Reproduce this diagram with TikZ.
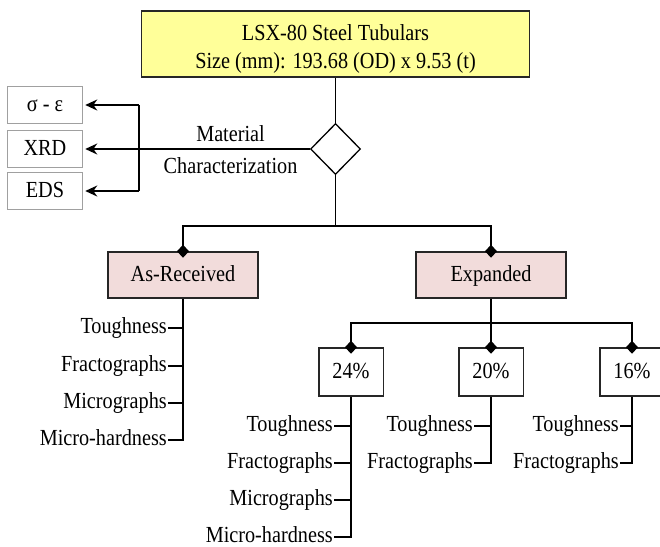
\documentclass[tikz,border=0pt]{standalone}
\usepackage{fontspec}
\setmainfont{Liberation Serif}[FakeStretch=0.88]
\usepackage{tikz}
\usetikzlibrary{positioning,
				arrows.meta,
				shapes.geometric}
\definecolor{tubeyellow}{HTML}{FFFF99}
\definecolor{casepink}{HTML}{F2DCDB}
\definecolor{testgray}{HTML}{A0A0A0}

\tikzset{
  topbox/.style={draw=black!85, line width=1.5pt, fill=tubeyellow, align=center,
    minimum width=388pt, minimum height=66pt, inner sep=0pt},
  casebox/.style={draw=black!85, line width=1.5pt, fill=casepink,
    minimum width=150pt, minimum height=46pt, inner sep=0pt,
    text height=15.7pt, text depth=2pt},
  pctbox/.style={draw=black!85, line width=1.5pt,
    minimum width=64.5pt, minimum height=48pt, inner sep=0pt,
    text height=15.7pt, text depth=2pt},
  testbox/.style={draw=testgray, line width=1.5pt,
    minimum width=75pt, minimum height=37pt, inner sep=0pt,
    text height=15.7pt, text depth=2pt},
  choice/.style={draw, diamond, aspect=1, line width=1.3pt,
    minimum width=50pt, minimum height=51pt, inner sep=0pt},
  lbl/.style={anchor=east, inner sep=1pt, text height=15.7pt, text depth=5pt},
  link/.style={line width=1.6pt},
  tip/.style={link, -{Diamond[length=13pt,width=12pt]}, shorten >=-6.5pt},
  arr/.style={link, -{Stealth[length=12pt,width=11pt]}, shorten >=2pt}
}

\begin{document}
\begin{tikzpicture}[x=1pt, y=1pt, font=\fontsize{23pt}{28pt}\selectfont]
  \useasboundingbox (0,0) rectangle (660,-546);
  % tubular and characterization
  \node[topbox] (tube) at (335.5,-44) {\rule{0pt}{25.7pt}LSX-80 Steel Tubulars\\Size (mm): 193.68 (OD) x 9.53 (t)};
  \node[choice] (mc) at (335.5,-149) {};
  \node[testbox] (sig) at (45,-105) {σ - ε};
  \node[testbox] (xrd) at (45,-149) {XRD};
  \node[testbox] (eds) at (45,-191) {EDS};
  \coordinate (brk) at (139,-149);
  \draw[link] (tube) -- (mc);
  \draw[arr] (mc.west) -- (xrd.east)
    node[pos=0.35, above=6pt, inner sep=0pt]{Material}
    node[pos=0.35, below=8pt, inner sep=0pt]{Characterization};
  \draw[link] (brk |- sig.east) -- (brk |- eds.east);
  \draw[arr] (brk |- sig.east) -- (sig.east);
  \draw[arr] (brk |- eds.east) -- (eds.east);

  % as-received and expanded
  \node[casebox] (asr) at (183,-275) {As-Received};
  \node[casebox] (exp) at (491,-275) {Expanded};
  \coordinate (fork) at (335.5,-226);
  \draw[link] (mc) -- (fork);
  \draw[tip] (fork) -| (asr.north);
  \draw[tip] (fork) -| (exp.north);

  % as-received tests
  \node[lbl] (ar1) at (168,-328) {Toughness};
  \node[lbl] (ar2) at (168,-366) {Fractographs};
  \node[lbl] (ar3) at (168,-403) {Micrographs};
  \node[lbl] (ar4) at (168,-440) {Micro-hardness};
  \draw[link] (asr.south) |- (ar4.east);
  \draw[link] (ar1.east) -- (ar1.east -| asr.south);
  \draw[link] (ar2.east) -- (ar2.east -| asr.south);
  \draw[link] (ar3.east) -- (ar3.east -| asr.south);

  % expansion ratios
  \node[pctbox] (p24) at (351,-372) {24\%};
  \node[pctbox] (p20) at (491,-372) {20\%};
  \node[pctbox] (p16) at (632,-372) {16\%};
  \coordinate (fork2) at (491,-323);
  \draw[link] (exp) -- (fork2);
  \draw[tip] (fork2) -| (p24.north);
  \draw[tip] (fork2) -- (p20.north);
  \draw[tip] (fork2) -| (p16.north);

  % 24% tests
  \node[lbl] (e1) at (334,-426) {Toughness};
  \node[lbl] (e2) at (334,-463) {Fractographs};
  \node[lbl] (e3) at (334,-500) {Micrographs};
  \node[lbl] (e4) at (334,-537) {Micro-hardness};
  \draw[link] (p24.south) |- (e4.east);
  \draw[link] (e1.east) -- (e1.east -| p24.south);
  \draw[link] (e2.east) -- (e2.east -| p24.south);
  \draw[link] (e3.east) -- (e3.east -| p24.south);

  % 20% tests
  \node[lbl] (f1) at (474,-426) {Toughness};
  \node[lbl] (f2) at (474,-463) {Fractographs};
  \draw[link] (p20.south) |- (f2.east);
  \draw[link] (f1.east) -- (f1.east -| p20.south);

  % 16% tests
  \node[lbl] (g1) at (620,-426) {Toughness};
  \node[lbl] (g2) at (620,-463) {Fractographs};
  \draw[link] (p16.south) |- (g2.east);
  \draw[link] (g1.east) -- (g1.east -| p16.south);
\end{tikzpicture}
\end{document}
